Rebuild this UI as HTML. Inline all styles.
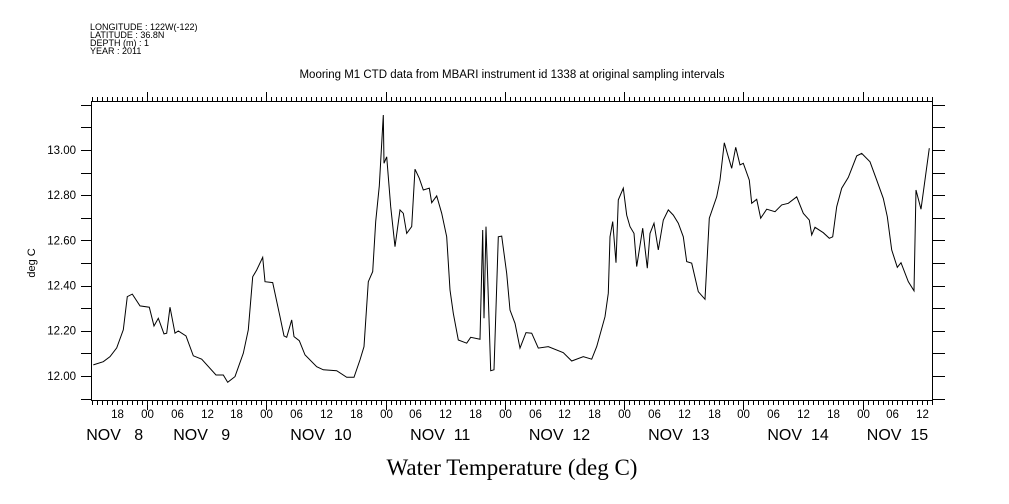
<!DOCTYPE html>
<html><head><meta charset="utf-8"><style>
body{margin:0;background:#fff;width:1009px;height:504px;overflow:hidden}
svg{display:block}
text{font-family:"Liberation Sans",sans-serif;fill:#000;white-space:pre}
</style></head><body>
<svg id="chart" width="1009" height="504" viewBox="0 0 1009 504">
<g font-size="9">
<text x="90" y="30">LONGITUDE : 122W(-122)</text>
<text x="90" y="38">LATITUDE : 36.8N</text>
<text x="90" y="46">DEPTH (m) : 1</text>
<text x="90" y="54">YEAR : 2011</text>
</g>
<text x="512" y="78" font-size="11.5" text-anchor="middle">Mooring M1 CTD data from MBARI instrument id 1338 at original sampling intervals</text>
<rect x="91.5" y="101.5" width="841" height="299" fill="none" stroke="#000" stroke-width="1"/>
<g id="axes"></g>
<path id="line" fill="none" stroke="#000" stroke-width="1"/>
<text transform="translate(35,263) rotate(-90)" font-size="11" text-anchor="middle">deg C</text>
<text x="512" y="475" font-size="23" text-anchor="middle" style="font-family:'Liberation Serif',serif">Water Temperature (deg C)</text>
</svg>
<script>
// hours since Nov 9 00:00
const hours=[-10.8,-8.79,-7.44,-6.10,-4.77,-3.96,-2.96,-1.41,0.46,1.41,2.27,3.42,3.96,4.63,5.63,6.30,7.85,9.32,11.01,13.88,15.35,16.24,17.71,19.38,20.38,21.27,22.07,23.28,23.74,25.29,26.76,27.57,28.11,29.11,29.58,30.64,31.79,34.14,35.47,38.17,40.18,41.65,42.86,43.66,44.53,45.41,46.02,46.74,47.55,47.69,48.23,49.03,49.90,50.91,51.57,52.25,53.26,53.92,54.79,55.59,56.80,57.28,58.29,59.30,60.30,60.97,61.63,62.64,64.33,65.13,67.00,67.55,67.81,68.21,69.15,69.82,70.68,71.37,72.37,73.04,74.04,75.05,76.26,77.40,78.73,80.74,83.76,85.45,87.79,89.48,90.48,92.15,92.82,93.16,93.70,94.37,94.83,95.84,96.52,97.18,97.99,98.53,99.74,100.66,101.21,102.01,102.88,103.88,104.89,105.90,106.90,107.91,108.59,109.60,110.93,112.27,113.14,114.63,115.29,116.16,116.76,117.65,118.45,119.32,119.98,121.19,121.67,122.68,123.48,124.69,126.36,127.71,129.04,130.72,132.05,133.26,133.74,134.41,136.08,137.28,137.97,138.77,139.78,141.11,142.80,143.80,145.47,146.82,148.15,148.95,149.84,150.97,151.71,153.18,154.33,154.73,155.73,157.40];
const temps=[12.049,12.063,12.085,12.124,12.204,12.351,12.362,12.310,12.304,12.221,12.255,12.186,12.189,12.304,12.189,12.199,12.177,12.089,12.074,12.004,12.004,11.972,11.997,12.100,12.204,12.439,12.469,12.525,12.417,12.413,12.262,12.177,12.171,12.248,12.174,12.156,12.093,12.041,12.027,12.023,11.994,11.994,12.071,12.130,12.417,12.462,12.683,12.841,13.155,12.941,12.970,12.749,12.572,12.735,12.720,12.631,12.661,12.915,12.875,12.823,12.831,12.767,12.797,12.720,12.616,12.381,12.277,12.159,12.145,12.171,12.162,12.646,12.255,12.661,12.023,12.027,12.616,12.619,12.454,12.292,12.233,12.123,12.192,12.189,12.123,12.130,12.103,12.066,12.085,12.074,12.130,12.262,12.366,12.616,12.683,12.501,12.779,12.831,12.712,12.661,12.631,12.484,12.654,12.477,12.631,12.676,12.558,12.690,12.735,12.712,12.676,12.616,12.506,12.499,12.373,12.339,12.698,12.793,12.867,13.032,12.985,12.919,13.012,12.934,12.941,12.867,12.764,12.782,12.698,12.738,12.727,12.757,12.764,12.793,12.720,12.690,12.624,12.658,12.634,12.609,12.616,12.749,12.831,12.879,12.974,12.985,12.948,12.867,12.786,12.705,12.558,12.481,12.501,12.417,12.377,12.823,12.738,13.008];
const yTickValues=[12.0,12.2,12.4,12.6,12.8,13.0];
const yTickLabels=["12.00","12.20","12.40","12.60","12.80","13.00"];
const dayLabels=["NOV   8","NOV   9","NOV  10","NOV  11","NOV  12","NOV  13","NOV  14","NOV  15"];
const dayLabelHours=[-6.5,11,35,59,83,107,131,151];
const hMin=-11.07,hMax=158.15,vMin=11.889,vMax=13.217;
const X0=92,X1=933,Y0=401,Y1=101;
function xs(h){return X0+(h-hMin)/(hMax-hMin)*(X1-X0);}
function ys(v){return Y0-(v-vMin)/(vMax-vMin)*(Y0-Y1);}
const NS="http://www.w3.org/2000/svg";
const ax=document.getElementById('axes');
function ln(x1,y1,x2,y2,name){const l=document.createElementNS(NS,'line');
l.setAttribute('x1',x1);l.setAttribute('y1',y1);l.setAttribute('x2',x2);l.setAttribute('y2',y2);
l.setAttribute('stroke','#000');l.setAttribute('stroke-width','1');


ax.appendChild(l);}
function tx(x,y,s,size,anchor,name){const t=document.createElementNS(NS,'text');
t.setAttribute('x',x);t.setAttribute('y',y);t.setAttribute('font-size',size);t.setAttribute('text-anchor',anchor);t.textContent=s;


ax.appendChild(t);}
for(let h=Math.ceil(hMin);h<=hMax;h++){
  const x=Math.round(xs(h))+0.5;const day=((h%24)+24)%24===0;
  ln(x,401,x,day?410:405,'x-tick-bottom');
  ln(x,101,x,day?92:97,'x-tick-top');
  if(h%6===0){const hh=((h%24)+24)%24;tx(x,418,String(hh).padStart(2,'0'),11.5,'middle','x-hour-label');}
}
for(let i=0;i<dayLabels.length;i++){tx(xs(dayLabelHours[i]),440,dayLabels[i],16,'middle','x-day-label');}
for(let v=11.9;v<=13.2;v+=0.1){const y=Math.round(ys(v))+0.5;ln(81,y,91,y,'y-tick-left');ln(933,y,945,y,'y-tick-right');}
yTickValues.forEach((v,i)=>tx(76,ys(v)+4,yTickLabels[i],11.5,'end','y-tick-label'));
let d='';hours.forEach((h,i)=>{d+=(i?'L':'M')+xs(h).toFixed(1)+' '+ys(temps[i]).toFixed(1);});
document.getElementById('line').setAttribute('d',d);
</script>
</body></html>
